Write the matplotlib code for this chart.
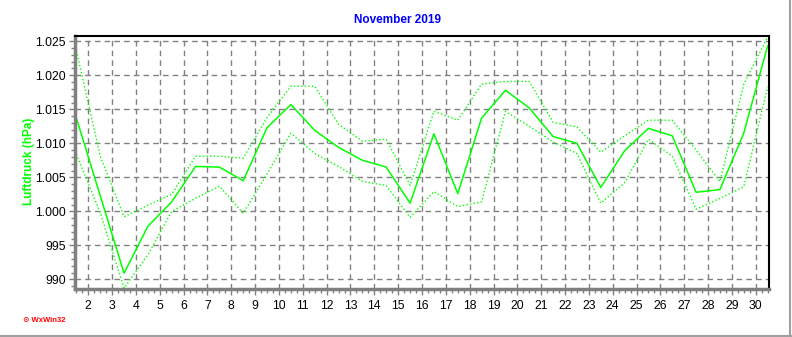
import numpy as np
import matplotlib
matplotlib.use("Agg")
import matplotlib.pyplot as plt
from matplotlib.ticker import FixedLocator, MultipleLocator, FuncFormatter
from matplotlib.lines import Line2D

plt.rcParams['font.family'] = ['Liberation Sans', 'DejaVu Sans']

# Tageswerte Luftdruck November 2019, jeweils zur Tagesmitte
days = np.arange(1, 31) + 0.5

p_max = [1023.6, 1008.1, 999.2, 1000.9, 1002.5, 1008.1, 1008.1, 1007.8, 1013.8, 1018.4,
         1018.4, 1012.8, 1010.3, 1010.6, 1003.8, 1014.7, 1013.4, 1018.7, 1019.1, 1019.1,
         1013.1, 1012.4, 1008.7, 1011.1, 1013.4, 1013.4, 1009.0, 1004.4, 1018.7, 1025.6]

p_mean = [1013.7, 1002.3, 990.9, 997.8, 1001.4, 1006.6, 1006.5, 1004.5, 1012.3, 1015.7,
          1011.9, 1009.4, 1007.5, 1006.5, 1001.2, 1011.4, 1002.6, 1013.7, 1017.8, 1015.2,
          1011.0, 1010.0, 1003.5, 1008.9, 1012.2, 1011.1, 1002.8, 1003.2, 1011.5, 1024.3]

p_min = [1008.4, 999.8, 988.7, 993.6, 1000.0, 1001.9, 1003.7, 999.7, 1005.5, 1011.5,
         1008.5, 1006.6, 1004.4, 1003.8, 999.1, 1002.9, 1000.7, 1001.4, 1014.7, 1012.5,
         1010.2, 1008.5, 1001.2, 1004.2, 1010.6, 1008.1, 1000.3, 1001.9, 1003.6, 1018.3]

x_ticks = list(range(2, 31))
y_ticks = [990, 995, 1000, 1005, 1010, 1015, 1020, 1025]

GREEN = '#00ff00'
GRID = '#808080'


def hpa_label(v, pos):
    # Tausenderpunkt wie in der deutschen Schreibweise
    v = int(round(v))
    if v >= 1000:
        return f"{v // 1000}.{v % 1000:03d}"
    return str(v)


fig = plt.figure(figsize=(7.92, 3.37), dpi=100)
ax = fig.add_axes([0.0951, 0.1439, 0.8759, 0.7493])

dotted = (0, (1, 1.6))
ax.plot(days, p_max, color=GREEN, lw=1.0, linestyle=dotted)
ax.plot(days, p_min, color=GREEN, lw=1.0, linestyle=dotted)
ax.plot(days, p_mean, color=GREEN, lw=1.1, linestyle='-')

ax.set_xlim(1.455, 30.56)
ax.set_ylim(988.65, 1025.78)

ax.xaxis.set_major_locator(FixedLocator(x_ticks))
ax.xaxis.set_minor_locator(MultipleLocator(0.25))
ax.yaxis.set_major_locator(FixedLocator(y_ticks))
ax.yaxis.set_minor_locator(MultipleLocator(1))
ax.yaxis.set_major_formatter(FuncFormatter(hpa_label))

ax.grid(True, which='major', color=GRID, linestyle=(0, (4, 3)), lw=1.0)
ax.set_axisbelow(True)

ax.tick_params(axis='both', which='major', labelsize=8.8, colors='#000000',
               length=4, width=1, color=GRID, direction='out', pad=3)
ax.tick_params(axis='x', which='major', pad=4)
ax.tick_params(axis='both', which='minor', length=3, width=1, color=GRID,
               direction='out')

for side in ('left', 'bottom'):
    ax.spines[side].set_color(GRID)
    ax.spines[side].set_linewidth(2.5)
for side in ('top', 'right'):
    ax.spines[side].set_color('#000000')
    ax.spines[side].set_linewidth(1.5)

fig.text(0.5015, 0.94, 'November 2019', ha='center', va='center',
         color='#0000ff', fontsize=8.5, fontweight='bold')
fig.text(0.037, 0.52, 'Luftdruck (hPa)', ha='center', va='center', rotation=90,
         color=GREEN, fontsize=8.5, fontweight='bold')
fig.text(0.056, 0.050, '\u2299 WxWin32', ha='center', va='center',
         color='#ff0000', fontsize=5.5, fontweight='bold')

# Rahmen rechts und unten
fig.add_artist(Line2D([0.9975, 0.9975], [0.0, 1.0], color='#a0a0a0', lw=1.5,
                      transform=fig.transFigure))
fig.add_artist(Line2D([0.0, 1.0], [0.003, 0.003], color='#a0a0a0', lw=1.5,
                      transform=fig.transFigure))

fig.savefig('out.png', dpi=100)
